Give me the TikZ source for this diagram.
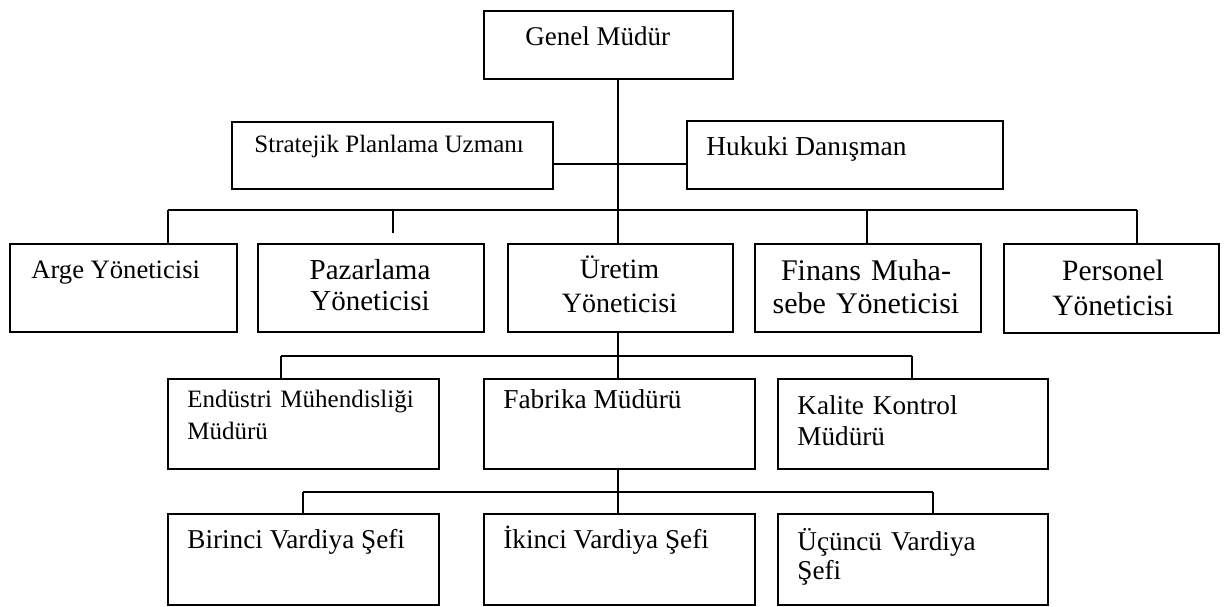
\documentclass[tikz,border=0pt]{standalone}
\usepackage{fontspec}
\setmainfont{Liberation Serif}
\newcommand\setfs[2]{\fontsize{#1}{#2}\selectfont}
\begin{document}
\begin{tikzpicture}[x=0.5pt,y=-0.5pt,
  box/.style={draw, line width=1pt, rectangle, inner sep=0pt, anchor=north west},
  wire/.style={line width=1pt},
  txt/.style={inner sep=0pt, anchor=base west},
  ltxt/.style={inner sep=0pt, anchor=base west, align=left, text width=130pt},
  ctxt/.style={inner sep=0pt, anchor=base, align=center, text width=110pt},
]
\useasboundingbox (0,0) rectangle (1224,606);

% boxes
\node[box, minimum width=124.5pt, minimum height=34pt]   (genel)    at (483,10)  {};
\node[box, minimum width=160.5pt, minimum height=33.5pt] (strat)    at (231,121) {};
\node[box, minimum width=158pt,   minimum height=34pt]   (hukuki)   at (686,120) {};
\node[box, minimum width=113.5pt, minimum height=44pt]   (arge)     at (9,243)   {};
\node[box, minimum width=113pt,   minimum height=44pt]   (pazar)    at (257,243) {};
\node[box, minimum width=112.5pt, minimum height=44pt]   (uretim)   at (507,243) {};
\node[box, minimum width=113pt,   minimum height=44pt]   (finans)   at (754,243) {};
\node[box, minimum width=107.5pt, minimum height=44.5pt] (personel) at (1003,243) {};
\node[box, minimum width=135.5pt, minimum height=45pt]   (endustri) at (167,378) {};
\node[box, minimum width=135.5pt, minimum height=45pt]   (fabrika)  at (483,378) {};
\node[box, minimum width=135pt,   minimum height=45pt]   (kalite)   at (777,378) {};
\node[box, minimum width=135.5pt, minimum height=45.5pt] (birinci)  at (167,513) {};
\node[box, minimum width=135.5pt, minimum height=45.5pt] (ikinci)   at (483,513) {};
\node[box, minimum width=135pt,   minimum height=45.5pt] (ucuncu)   at (777,513) {};

% texts
\node[txt, font=\setfs{13.5}{16}] (genelT) at (525,45) {Genel Müdür};
\node[txt, font=\setfs{12.5}{15}] (stratT) at (254,152) {Stratejik Planlama Uzmanı};
\node[txt, font=\setfs{13.7}{16}] (hukukiT) at (706,155) {Hukuki Danışman};
\node[txt, font=\setfs{13.3}{16}] (argeT) at (31,278) {Arge Yöneticisi};
\node[ctxt, font=\setfs{14.5}{15.5}] (pazarT) at (370,279) {Pazarlama\\Yöneticisi};
\node[ctxt, font=\setfs{14}{17}] (uretimT) at (619.5,278) {Üretim\\Yöneticisi};
\node[ctxt, font=\setfs{15}{16.5}] (finansT) at (866,280) {Finans Muha-\\sebe Yöneticisi};
\node[ctxt, font=\setfs{14.75}{17.5}] (personelT) at (1113,280) {Personel\\Yöneticisi};
\node[ltxt, font=\setfs{12.5}{16}] (endustriT) at (187,407) {Endüstri Mühendisliği\\Müdürü};
\node[txt, font=\setfs{13.65}{16}] (fabrikaT) at (503,408) {Fabrika Müdürü};
\node[ltxt, font=\setfs{13.6}{15.5}] (kaliteT) at (797,414) {Kalite Kontrol\\Müdürü};
\node[txt, font=\setfs{13.6}{16}] (birinciT) at (187,548) {Birinci Vardiya Şefi};
\node[txt, font=\setfs{13.6}{16}] (ikinciT) at (503,548) {İkinci Vardiya Şefi};
\node[ltxt, font=\setfs{13.6}{14.5}] (ucuncuT) at (797,550) {Üçüncü Vardiya\\Şefi};

% junction points
\coordinate (spine) at (618,0);
\coordinate (advY)  at (0,164);
\coordinate (d1a) at (168,210);
\coordinate (d1b) at (393,210);
\coordinate (d1c) at (867,210);
\coordinate (d1d) at (1137,210);
\coordinate (pzStub) at (393,233);
\coordinate (d2a) at (281,356);
\coordinate (d2c) at (912,356);
\coordinate (d3a) at (303,492);
\coordinate (d3c) at (933,492);

% top level and staff positions
\draw[wire] (genel.south -| spine) -- (uretim.north -| spine);
\draw[wire] (strat.east |- advY) -- (hukuki.west |- advY);

% department managers
\draw[wire] (d1a) -- (d1d);
\draw[wire] (d1a) -- (d1a |- arge.north);
\draw[wire] (d1b) -- (pzStub);
\draw[wire] (d1c) -- (d1c |- finans.north);
\draw[wire] (d1d) -- (d1d |- personel.north);

% production branch
\draw[wire] (uretim.south -| spine) -- (fabrika.north -| spine);
\draw[wire] (d2a) -- (d2c);
\draw[wire] (d2a) -- (d2a |- endustri.north);
\draw[wire] (d2c) -- (d2c |- kalite.north);

% shift supervisors
\draw[wire] (fabrika.south -| spine) -- (ikinci.north -| spine);
\draw[wire] (d3a) -- (d3c);
\draw[wire] (d3a) -- (d3a |- birinci.north);
\draw[wire] (d3c) -- (d3c |- ucuncu.north);
\end{tikzpicture}
\end{document}
